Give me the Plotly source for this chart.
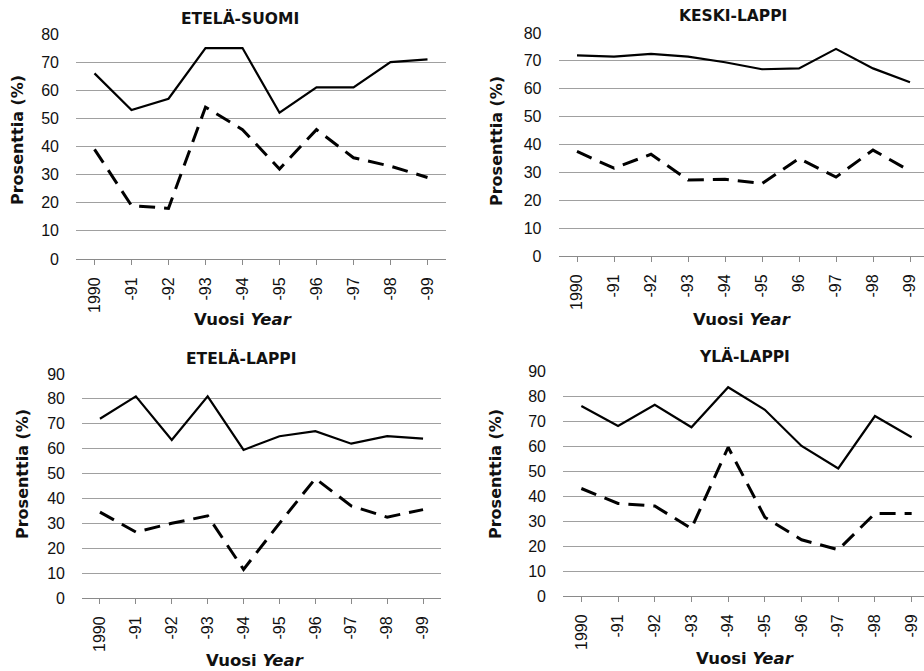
import plotly.graph_objects as go

years = ["1990", "-91", "-92", "-93", "-94", "-95", "-96", "-97", "-98", "-99"]
years_keski = ["1990", "-91", "-92", "-93", "-94", "-95", "96", "-97", "-98", "-99"]

etela_suomi_solid = [66, 53, 57, 75, 75, 52, 61, 61, 70, 71]
etela_suomi_dash = [39, 19, 18, 54, 46, 32, 46, 36, 33, 29]

keski_lappi_solid = [72, 71.5, 72.5, 71.5, 69.5, 67, 67.3, 74.3, 67.3, 62.3]
keski_lappi_dash = [37.5, 31.5, 36.5, 27.3, 27.5, 26, 35, 28.3, 38, 30.5]

etela_lappi_solid = [72, 81, 63.5, 81, 59.5, 65, 67, 62, 65, 64]
etela_lappi_dash = [34.5, 26.5, 30, 33, 11.5, 30, 48, 37, 32.5, 35.5]

yla_lappi_solid = [76, 68, 76.5, 67.5, 83.5, 74.5, 60, 51, 72, 63.5]
yla_lappi_dash = [43, 37, 36, 27, 59.5, 31.5, 22.5, 18.5, 33, 33]

titles = ["ETELÄ-SUOMI", "KESKI-LAPPI", "ETELÄ-LAPPI", "YLÄ-LAPPI"]

W, H = 924, 671

def px(x):
    return x / W

def py(y):
    return 1 - y / H

panels = [
    dict(solid=etela_suomi_solid, dash=etela_suomi_dash, labels=years, ymax=80,
         x0=76, x1=446, y0=259, y1=34, title=(240, 18), ytitle=(17, 140), xtitle=(243, 319)),
    dict(solid=keski_lappi_solid, dash=keski_lappi_dash, labels=years_keski, ymax=80,
         x0=558.5, x1=924, y0=256, y1=33, title=(733, 16), ytitle=(497, 141), xtitle=(742, 320),
         spacing=37.0),
    dict(solid=etela_lappi_solid, dash=etela_lappi_dash, labels=years, ymax=90,
         x0=82, x1=441, y0=598, y1=374, title=(241, 358), ytitle=(22, 474), xtitle=(255, 660)),
    dict(solid=yla_lappi_solid, dash=yla_lappi_dash, labels=years, ymax=90,
         x0=563, x1=924, y0=596, y1=371, title=(744, 356), ytitle=(495, 474), xtitle=(745, 658),
         spacing=36.7),
]

fig = go.Figure()
annotations = []
tickfont = dict(family="Liberation Sans, Arial", size=16, color="#111111")

for i, p in enumerate(panels):
    n = "" if i == 0 else str(i + 1)
    xa = "x" + n
    ya = "y" + n
    fig.add_trace(go.Scatter(x=list(range(10)), y=p["solid"], mode="lines",
                             line=dict(color="black", width=2.2), xaxis=xa, yaxis=ya,
                             showlegend=False, hoverinfo="skip"))
    fig.add_trace(go.Scatter(x=list(range(10)), y=p["dash"], mode="lines",
                             line=dict(color="black", width=3, dash="16px,9px"),
                             xaxis=xa, yaxis=ya, showlegend=False, hoverinfo="skip"))
    if "spacing" in p:
        xr = [-0.5, -0.5 + (p["x1"] - p["x0"]) / p["spacing"]]
    else:
        xr = [-0.5, 9.5]
    fig.update_layout(**{
        "xaxis" + n: dict(domain=[px(p["x0"]), px(p["x1"])], range=xr, anchor=ya,
                          tickmode="array", tickvals=list(range(10)), ticktext=p["labels"],
                          tickangle=-90, tickfont=tickfont, showgrid=False, zeroline=False,
                          showline=True, linecolor="#8a8a8a", linewidth=1,
                          ticks="outside", ticklen=5, tickcolor="#8a8a8a", tickson="boundaries",
                          ticklabelstandoff=6, automargin=False),
        "yaxis" + n: dict(domain=[py(p["y0"]), py(p["y1"])], range=[0, p["ymax"]], anchor=xa,
                          dtick=10, tickfont=tickfont, showgrid=True, gridcolor="#a0a0a0",
                          gridwidth=1, zeroline=False, showline=False, ticks="",
                          ticklabelstandoff=16, automargin=False),
    })
    annotations.append(dict(text="<b>" + titles[i] + "</b>", x=px(p["title"][0]), y=py(p["title"][1]),
                            xref="paper", yref="paper", showarrow=False,
                            font=dict(family="DejaVu Sans", size=15.5, color="#111111"),
                            xanchor="center", yanchor="middle"))
    annotations.append(dict(text="<b>Prosenttia (%)</b>", x=px(p["ytitle"][0]), y=py(p["ytitle"][1]),
                            xref="paper", yref="paper", showarrow=False, textangle=-90,
                            font=dict(family="DejaVu Sans", size=16, color="#111111"),
                            xanchor="center", yanchor="middle"))
    annotations.append(dict(text="<b>Vuosi <i>Year</i></b>", x=px(p["xtitle"][0]), y=py(p["xtitle"][1]),
                            xref="paper", yref="paper", showarrow=False,
                            font=dict(family="DejaVu Sans", size=16.5, color="#111111"),
                            xanchor="center", yanchor="middle"))

fig.update_layout(width=W, height=H, margin=dict(l=0, r=0, t=0, b=0, pad=0, autoexpand=False),
                  paper_bgcolor="white", plot_bgcolor="white", annotations=annotations)

post = (
    "document.documentElement.style.margin='0';"
    "document.body.style.margin='0';"
    "document.documentElement.style.overflow='hidden';"
    "document.body.style.overflow='hidden';"
    "var gd=document.getElementById('{plot_id}');"
    "gd.style.position='fixed';gd.style.top='0px';gd.style.left='0px';"
)

fig.write_html("out.html", config={"displayModeBar": False}, post_script=post)
